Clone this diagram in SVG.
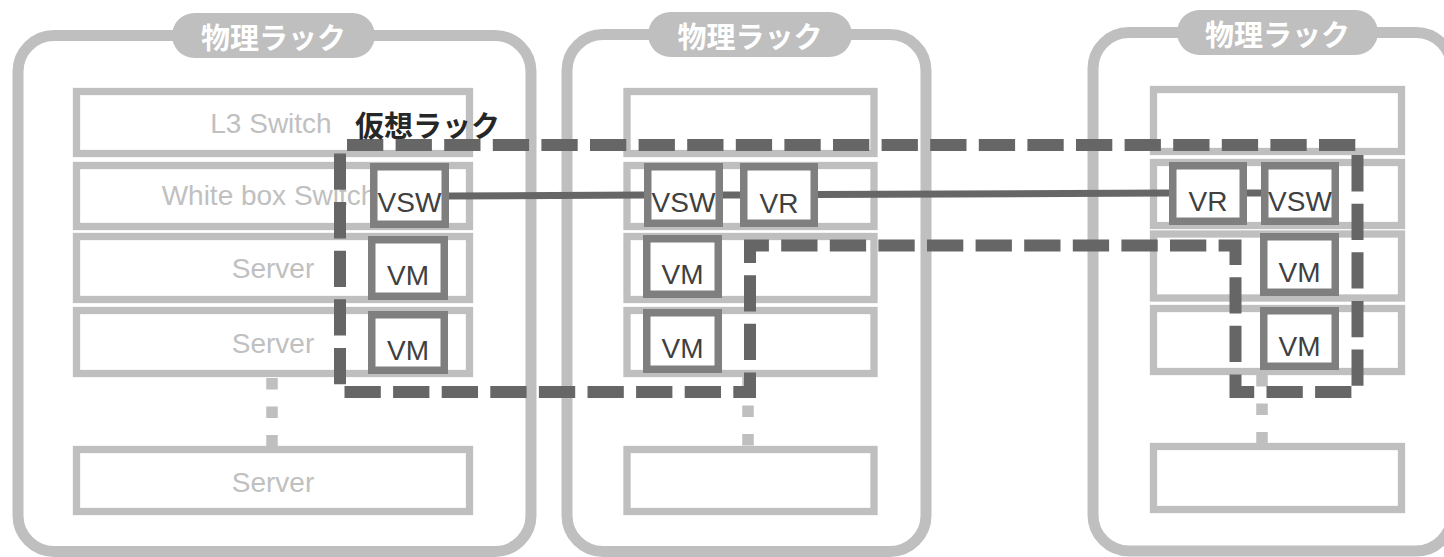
<svg xmlns="http://www.w3.org/2000/svg" width="1444" height="557" viewBox="0 0 1444 557">
<style>
.rack{fill:#fff;stroke:#bfbfbf;stroke-width:11}
.pill{fill:#bfbfbf}
.ptxt{font-family:"Noto Sans CJK JP",sans-serif;font-weight:bold;font-size:29px;fill:#fff;text-anchor:middle;dominant-baseline:central}
.unit{fill:#fff;stroke:#bfbfbf;stroke-width:7.3}
.utxt{font-family:"Liberation Sans",Arial,sans-serif;font-size:28px;fill:#c0c0c0;text-anchor:middle}
.dots{fill:none;stroke:#bfbfbf;stroke-width:11.5;stroke-dasharray:11.5 17}
.vbox{fill:#fff;stroke:#7f7f7f;stroke-width:7.5}
.vtxt{font-family:"Liberation Sans",Arial,sans-serif;font-size:28px;fill:#404040;text-anchor:middle}
.link{fill:none;stroke:#666;stroke-width:7}
.vrack{fill:none;stroke:#666;stroke-width:12;stroke-dasharray:36.3 12.3;stroke-dashoffset:41.6}
.vlabel{font-family:"Noto Sans CJK JP",sans-serif;font-weight:bold;font-size:29px;fill:#262626;dominant-baseline:central}
</style>
<rect width="1444" height="557" fill="#fff"/>

<g id="rack1">
  <rect class="rack" x="18" y="35.5" width="513" height="516" rx="36"/>
  <rect class="pill" x="172" y="13" width="203" height="45" rx="22.5"/>
  <text class="ptxt" x="273.5" y="35.5">物理ラック</text>
  <rect class="unit" x="76.5" y="91.5" width="393" height="62"/>
  <text class="utxt" x="271" y="133">L3 Switch</text>
  <rect class="unit" x="76.5" y="165.5" width="393" height="61"/>
  <text class="utxt" x="269" y="205">White box Switch</text>
  <rect class="unit" x="76.5" y="236.5" width="393" height="63"/>
  <text class="utxt" x="273" y="278">Server</text>
  <rect class="unit" x="76.5" y="310.5" width="393" height="63"/>
  <text class="utxt" x="273" y="353">Server</text>
  <rect class="unit" x="76.5" y="449.5" width="393" height="62"/>
  <text class="utxt" x="273" y="492">Server</text>
  <line class="dots" x1="272" y1="378" x2="272" y2="446"/>
</g>

<g id="rack2">
  <rect class="rack" x="567" y="34.5" width="359" height="517" rx="36"/>
  <rect class="pill" x="648" y="12" width="204" height="45" rx="22.5"/>
  <text class="ptxt" x="750" y="34.5">物理ラック</text>
  <rect class="unit" x="627" y="91.5" width="247" height="62"/>
  <rect class="unit" x="627" y="165.5" width="247" height="61"/>
  <rect class="unit" x="627" y="236.5" width="247" height="63"/>
  <rect class="unit" x="627" y="310.5" width="247" height="63"/>
  <rect class="unit" x="627" y="449.5" width="247" height="62"/>
  <line class="dots" x1="748" y1="377" x2="748" y2="446"/>
</g>

<g id="rack3">
  <rect class="rack" x="1093" y="32.5" width="359" height="518.5" rx="36"/>
  <rect class="pill" x="1177" y="10" width="201" height="45" rx="22.5"/>
  <text class="ptxt" x="1277.5" y="32.5">物理ラック</text>
  <rect class="unit" x="1153.5" y="89.5" width="248" height="62"/>
  <rect class="unit" x="1153.5" y="162.5" width="248" height="63"/>
  <rect class="unit" x="1153.5" y="234" width="248" height="64"/>
  <rect class="unit" x="1153.5" y="308.5" width="248" height="63"/>
  <rect class="unit" x="1153.5" y="446.5" width="248" height="63"/>
  <line class="dots" x1="1262" y1="375" x2="1262" y2="444"/>
</g>

<g id="virtual-rack">
  <path class="vrack" d="M340,145 H1357.5 V392 H1235.5 V245.5 H750 V392 H340 Z"/>
  <text class="vlabel" x="355" y="123.5">仮想ラック</text>
</g>

<g id="connectors">
  <line class="link" x1="449" y1="196" x2="644" y2="195"/>
  <line class="link" x1="723" y1="195" x2="740" y2="195"/>
  <line class="link" x1="818" y1="194.5" x2="1169" y2="193"/>
  <line class="link" x1="1247" y1="193" x2="1261" y2="193"/>
</g>

<g id="r1-vsw"><rect class="vbox" x="373.75" y="166.75" width="71.5" height="57.5"/><text class="vtxt" x="409.5" y="212">VSW</text></g>
<g id="r1-vm1"><rect class="vbox" x="371.75" y="239.75" width="72.5" height="56.5"/><text class="vtxt" x="408" y="285">VM</text></g>
<g id="r1-vm2"><rect class="vbox" x="371.75" y="314.75" width="72.5" height="55.5"/><text class="vtxt" x="408" y="360">VM</text></g>

<g id="r2-vsw"><rect class="vbox" x="647.75" y="166.75" width="71.5" height="56.5"/><text class="vtxt" x="683.5" y="212">VSW</text></g>
<g id="r2-vr"><rect class="vbox" x="743.75" y="166.75" width="70.5" height="56.5"/><text class="vtxt" x="779" y="213">VR</text></g>
<g id="r2-vm1"><rect class="vbox" x="646.75" y="238.75" width="71.5" height="55.5"/><text class="vtxt" x="682.5" y="284">VM</text></g>
<g id="r2-vm2"><rect class="vbox" x="646.75" y="312.75" width="71.5" height="56.5"/><text class="vtxt" x="682.5" y="358">VM</text></g>

<g id="r3-vr"><rect class="vbox" x="1172.75" y="165.75" width="70.5" height="55.5"/><text class="vtxt" x="1208" y="211">VR</text></g>
<g id="r3-vsw"><rect class="vbox" x="1264.75" y="165.75" width="70.5" height="55.5"/><text class="vtxt" x="1300" y="211">VSW</text></g>
<g id="r3-vm1"><rect class="vbox" x="1263.75" y="236.75" width="71.5" height="55.5"/><text class="vtxt" x="1299.5" y="282">VM</text></g>
<g id="r3-vm2"><rect class="vbox" x="1263.75" y="310.75" width="71.5" height="55.5"/><text class="vtxt" x="1299.5" y="356">VM</text></g>
</svg>
